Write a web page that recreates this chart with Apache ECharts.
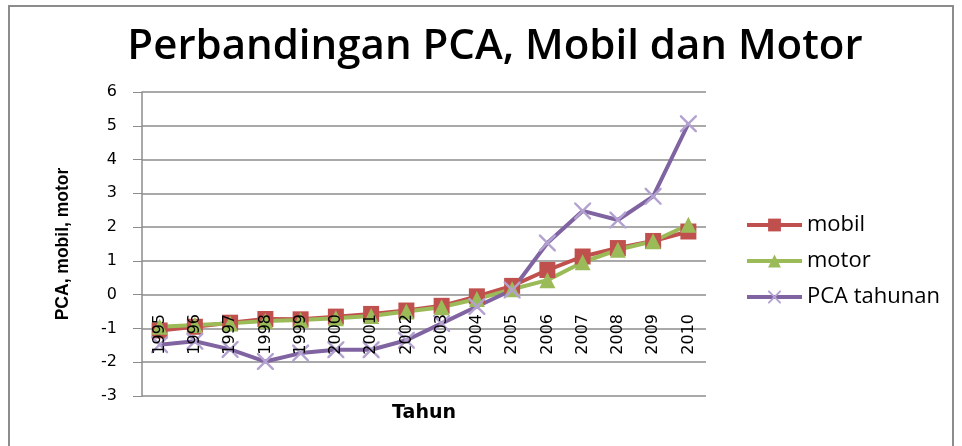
<!DOCTYPE html>
<html>
<head>
<meta charset="utf-8">
<script src="https://cdn.jsdelivr.net/npm/echarts@6/dist/echarts.min.js"></script>
<style>
  html, body { margin: 0; padding: 0; background: #fff; }
  #frame { position: absolute; left: 8px; top: 5px; width: 946px; height: 460px; border: 2px solid #8c8c8c; box-sizing: border-box; }
  #main { position: absolute; left: 0; top: 0; width: 962px; height: 446px; }
</style>
</head>
<body>
<div id="frame"></div>
<div id="main"></div>
<script>
// data kira-kira
let years = ['1995', '1996', '1997', '1998', '1999', '2000', '2001', '2002',
             '2003', '2004', '2005', '2006', '2007', '2008', '2009', '2010'];
let mobil = [-1.06, -0.95, -0.83, -0.72, -0.73, -0.65, -0.57, -0.47,
             -0.33, -0.05, 0.26, 0.73, 1.13, 1.38, 1.59, 1.87];
let motor = [-0.95, -0.9, -0.85, -0.78, -0.75, -0.7, -0.63, -0.5,
             -0.37, -0.13, 0.16, 0.43, 0.96, 1.33, 1.58, 2.07];
let pca = [-1.48, -1.38, -1.62, -1.98, -1.73, -1.63, -1.63, -1.35,
           -0.85, -0.35, 0.14, 1.53, 2.48, 2.21, 2.91, 5.06];

// simbol silang
let crossPath = 'path://M0,0L1,0L5,4L9,0L10,0L10,1L6,5L10,9L10,10L9,10L5,6L1,10L0,10L0,9L4,5L0,1Z';

let myChart = echarts.init(document.getElementById('main'));

let option = {
    animation: false,
    title: {
        text: 'Perbandingan PCA, Mobil dan Motor',
        left: 490,
        top: 21,
        textAlign: 'center',
        textStyle: {
            fontFamily: 'Open Sans',
            fontSize: 42,
            fontWeight: 600,
            color: '#000'
        }
    },
    legend: {
        orient: 'vertical',
        left: 740,
        top: 209,
        itemWidth: 55,
        itemHeight: 16,
        itemGap: 14,
        lineStyle: { width: 4 },
        textStyle: {
            fontFamily: 'Open Sans',
            fontSize: 22,
            color: '#000'
        },
        data: ['mobil', 'motor', 'PCA tahunan']
    },
    grid: {
        left: 142,
        right: 256,
        top: 92,
        bottom: 50
    },
    xAxis: {
        type: 'category',
        data: years,
        boundaryGap: true,
        z: 5,
        name: 'Tahun',
        nameLocation: 'middle',
        nameGap: 8,
        nameTextStyle: {
            fontFamily: 'DejaVu Sans',
            fontSize: 19,
            fontWeight: 'bold',
            color: '#000',
            verticalAlign: 'top'
        },
        axisLine: { onZero: false, show: false },
        axisTick: { show: false },
        axisLabel: {
            rotate: 90,
            margin: -82,
            interval: 0,
            fontFamily: 'DejaVu Sans',
            fontSize: 16,
            color: '#000'
        }
    },
    yAxis: {
        type: 'value',
        min: -3,
        max: 6,
        interval: 1,
        name: 'PCA, mobil, motor',
        nameLocation: 'middle',
        nameGap: 70,
        nameTextStyle: {
            fontFamily: 'Liberation Sans',
            fontSize: 17.5,
            fontWeight: 'bold',
            color: '#000'
        },
        axisLine: { show: true, lineStyle: { color: '#8c8c8c', width: 1.5 } },
        axisTick: { show: true, length: 9, lineStyle: { color: '#8c8c8c' } },
        axisLabel: {
            margin: 25,
            fontFamily: 'DejaVu Sans',
            fontSize: 16,
            color: '#000'
        },
        splitLine: { lineStyle: { color: '#8c8c8c', width: 1.5 } }
    },
    series: [
        {
            name: 'mobil',
            type: 'line',
            data: mobil,
            symbol: 'rect',
            symbolSize: 16,
            lineStyle: { color: '#C0504D', width: 4 },
            itemStyle: { color: '#C0504D' }
        },
        {
            name: 'motor',
            type: 'line',
            data: motor,
            symbol: 'triangle',
            symbolSize: 16,
            lineStyle: { color: '#9BBB59', width: 4 },
            itemStyle: { color: '#9BBB59' }
        },
        {
            name: 'PCA tahunan',
            type: 'line',
            data: pca,
            symbol: crossPath,
            symbolSize: 17,
            lineStyle: { color: '#8064A2', width: 4 },
            itemStyle: { color: '#B3A2D0' }
        }
    ]
};

myChart.setOption(option);
</script>
</body>
</html>
